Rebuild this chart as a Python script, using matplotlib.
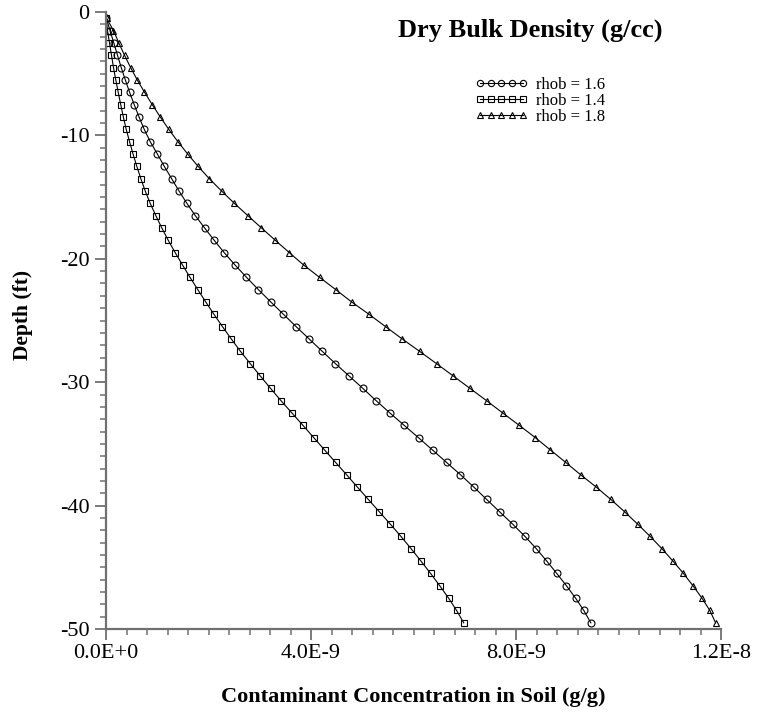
import matplotlib
matplotlib.use('Agg')
import matplotlib.pyplot as plt
from matplotlib.ticker import MultipleLocator, FixedLocator, FixedFormatter

plt.rcParams['font.family'] = ['Liberation Serif', 'DejaVu Serif']
plt.rcParams['axes.unicode_minus'] = False

# depth of each cell centre (ft)
depth = [-0.5, -1.5, -2.5, -3.5, -4.5, -5.5, -6.5, -7.5, -8.5, -9.5,
         -10.5, -11.5, -12.5, -13.5, -14.5, -15.5, -16.5, -17.5, -18.5, -19.5,
         -20.5, -21.5, -22.5, -23.5, -24.5, -25.5, -26.5, -27.5, -28.5, -29.5,
         -30.5, -31.5, -32.5, -33.5, -34.5, -35.5, -36.5, -37.5, -38.5, -39.5,
         -40.5, -41.5, -42.5, -43.5, -44.5, -45.5, -46.5, -47.5, -48.5, -49.5]

# soil concentration, in units of 1E-9 g/g
rhob_16 = [0.006, 0.078, 0.152, 0.224, 0.297, 0.377, 0.460, 0.550, 0.644, 0.745,
           0.862, 1.001, 1.136, 1.280, 1.424, 1.577, 1.742, 1.924, 2.111, 2.306,
           2.517, 2.741, 2.974, 3.216, 3.463, 3.711, 3.965, 4.220, 4.478, 4.745,
           5.011, 5.272, 5.541, 5.819, 6.098, 6.373, 6.644, 6.917, 7.177, 7.427,
           7.680, 7.934, 8.176, 8.398, 8.601, 8.796, 8.985, 9.163, 9.323, 9.460]

rhob_14 = [0.004, 0.029, 0.068, 0.107, 0.146, 0.191, 0.238, 0.287, 0.338, 0.394,
           0.459, 0.527, 0.601, 0.679, 0.765, 0.862, 0.972, 1.089, 1.214, 1.350,
           1.493, 1.639, 1.791, 1.947, 2.107, 2.273, 2.445, 2.624, 2.816, 3.011,
           3.210, 3.415, 3.629, 3.844, 4.055, 4.267, 4.480, 4.695, 4.905, 5.118,
           5.333, 5.547, 5.756, 5.955, 6.146, 6.334, 6.513, 6.685, 6.841, 6.980]

rhob_18 = [0.010, 0.146, 0.250, 0.361, 0.480, 0.609, 0.751, 0.901, 1.058, 1.223,
           1.401, 1.592, 1.795, 2.014, 2.254, 2.503, 2.767, 3.034, 3.303, 3.577,
           3.856, 4.166, 4.484, 4.794, 5.132, 5.456, 5.782, 6.119, 6.451, 6.777,
           7.102, 7.427, 7.743, 8.064, 8.380, 8.673, 8.970, 9.261, 9.566, 9.850,
           10.119, 10.373, 10.619, 10.849, 11.063, 11.268, 11.454, 11.629, 11.782, 11.895]

series = [('rhob = 1.6', rhob_16, 'o'),
          ('rhob = 1.4', rhob_14, 's'),
          ('rhob = 1.8', rhob_18, '^')]

xtick_vals = [0.0, 4.0e-9, 8.0e-9, 1.2e-8]
xtick_labels = ['0.0E+0', '4.0E-9', '8.0E-9', '1.2E-8']
ytick_vals = [0, -10, -20, -30, -40, -50]

fig = plt.figure(figsize=(7.62, 7.17), dpi=100)
ax = fig.add_axes([106 / 762, 1 - 629 / 717, 615 / 762, 617 / 717])

for label, vals, mk in series:
    ax.plot([v * 1e-9 for v in vals], depth, color='black', linewidth=0.8,
            marker=mk, markersize=5, markerfacecolor='none',
            markeredgecolor='black', markeredgewidth=0.8, label=label)

ax.set_xlim(0, 1.2e-8)
ax.set_ylim(-50, 0)

ax.xaxis.set_major_locator(FixedLocator(xtick_vals))
ax.xaxis.set_major_formatter(FixedFormatter(xtick_labels))
ax.xaxis.set_minor_locator(MultipleLocator(4e-10))
ax.yaxis.set_major_locator(FixedLocator(ytick_vals))
ax.yaxis.set_minor_locator(MultipleLocator(1))

for side in ['top', 'right']:
    ax.spines[side].set_visible(False)
for side in ['left', 'bottom']:
    ax.spines[side].set_color('#707070')
    ax.spines[side].set_linewidth(1.6)

ax.tick_params(which='major', direction='out', length=8, width=1.3,
               color='#707070', labelsize=16, pad=3)
ax.tick_params(which='minor', direction='out', length=4.5, width=1.1,
               color='#707070')
ax.tick_params(axis='y', which='major', pad=4)

fig.text(530 / 762, 1 - 30 / 717, 'Dry Bulk Density (g/cc)', ha='center',
         va='center', fontsize=19, fontweight='bold')
fig.text(413 / 762, 1 - 697 / 717, 'Contaminant Concentration in Soil (g/g)',
         ha='center', va='center', fontsize=16, fontweight='bold')
fig.text(23 / 762, 1 - 315 / 717, 'Depth (ft)', ha='center', va='center',
         rotation=90, fontsize=15.5, fontweight='bold')

ax.legend(loc='upper left', bbox_to_anchor=(468 / 762, 1 - 70 / 717),
          bbox_transform=fig.transFigure, frameon=False, numpoints=5,
          handlelength=3.2, handletextpad=0.5, labelspacing=0.0,
          markerscale=0.9, prop={'size': 12}, borderaxespad=0)

fig.savefig('out.png', dpi=100)
